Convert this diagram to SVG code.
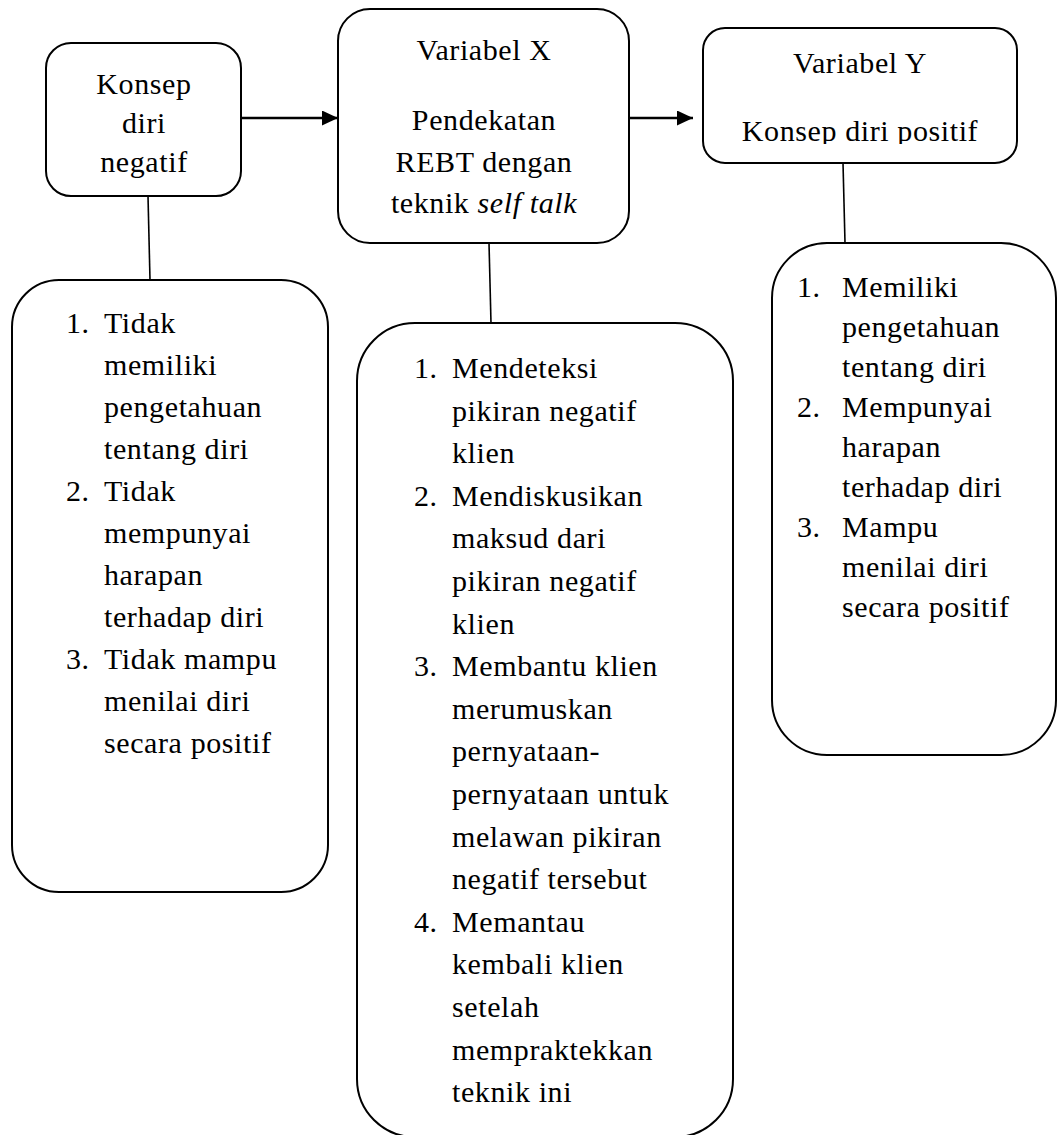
<svg xmlns="http://www.w3.org/2000/svg" width="1058" height="1135" viewBox="0 0 1058 1135">
<style>
.box{fill:#fff;stroke:#000;stroke-width:2}
.t{font-family:"Liberation Serif","Times New Roman",serif;font-size:30px;fill:#000;letter-spacing:0.6px}
.c{text-anchor:middle}
.ln{stroke:#000;stroke-width:1.6;fill:none}
.ar{stroke:#000;stroke-width:2.6;fill:none}
</style>
<defs>
<marker id="ah" markerWidth="16" markerHeight="15" refX="16" refY="7.5" orient="auto" markerUnits="userSpaceOnUse">
<path d="M0,0 L16,7.5 L0,15 Z" fill="#000"/>
</marker>
<clipPath id="clipY"><rect x="703" y="28" width="314" height="116"/></clipPath>
</defs>
<rect width="1058" height="1135" fill="#fff"/>
<g id="connectors">
<line class="ar" x1="241" y1="118" x2="338" y2="118" marker-end="url(#ah)"/>
<line class="ar" x1="629" y1="118" x2="693" y2="118" marker-end="url(#ah)"/>
<line class="ln" x1="148" y1="196" x2="150" y2="280"/>
<line class="ln" x1="489" y1="243" x2="491" y2="323"/>
<line class="ln" x1="843" y1="163" x2="845" y2="243"/>
</g>
<g id="node-konsep-negatif">
<rect class="box" x="46" y="43" width="195" height="153" rx="25"/>
<text class="t c" x="144" y="94">Konsep</text>
<text class="t c" x="144" y="133">diri</text>
<text class="t c" x="144" y="172">negatif</text>
</g>
<g id="node-variabel-x">
<rect class="box" x="338" y="9" width="291" height="234" rx="32"/>
<text class="t c" x="484" y="60">Variabel X</text>
<text class="t c" x="484" y="130">Pendekatan</text>
<text class="t c" x="484" y="172">REBT dengan</text>
<text class="t c" x="484" y="213">teknik <tspan font-style="italic">self talk</tspan></text>
</g>
<g id="node-variabel-y">
<rect class="box" x="703" y="28" width="314" height="135" rx="22"/>
<text class="t c" x="860" y="73">Variabel Y</text>
<text class="t c" x="860" y="141" clip-path="url(#clipY)">Konsep diri positif</text>
</g>
<g id="node-indikator-negatif">
<rect class="box" x="12" y="280" width="316" height="612" rx="47"/>
<text class="t" x="66" y="333">1.</text>
<text class="t" x="104" y="333">Tidak</text>
<text class="t" x="104" y="375">memiliki</text>
<text class="t" x="104" y="417">pengetahuan</text>
<text class="t" x="104" y="459">tentang diri</text>
<text class="t" x="66" y="501">2.</text>
<text class="t" x="104" y="501">Tidak</text>
<text class="t" x="104" y="543">mempunyai</text>
<text class="t" x="104" y="585">harapan</text>
<text class="t" x="104" y="627">terhadap diri</text>
<text class="t" x="66" y="669">3.</text>
<text class="t" x="104" y="669">Tidak mampu</text>
<text class="t" x="104" y="711">menilai diri</text>
<text class="t" x="104" y="753">secara positif</text>
</g>
<g id="node-langkah-rebt">
<rect class="box" x="357" y="323" width="376" height="814" rx="58"/>
<text class="t" x="414" y="378">1.</text>
<text class="t" x="452" y="378">Mendeteksi</text>
<text class="t" x="452" y="420.6">pikiran negatif</text>
<text class="t" x="452" y="463.2">klien</text>
<text class="t" x="414" y="505.8">2.</text>
<text class="t" x="452" y="505.8">Mendiskusikan</text>
<text class="t" x="452" y="548.4">maksud dari</text>
<text class="t" x="452" y="591">pikiran negatif</text>
<text class="t" x="452" y="633.6">klien</text>
<text class="t" x="414" y="676.2">3.</text>
<text class="t" x="452" y="676.2">Membantu klien</text>
<text class="t" x="452" y="718.8">merumuskan</text>
<text class="t" x="452" y="761.4">pernyataan-</text>
<text class="t" x="452" y="804">pernyataan untuk</text>
<text class="t" x="452" y="846.6">melawan pikiran</text>
<text class="t" x="452" y="889.2">negatif tersebut</text>
<text class="t" x="414" y="931.8">4.</text>
<text class="t" x="452" y="931.8">Memantau</text>
<text class="t" x="452" y="974.4">kembali klien</text>
<text class="t" x="452" y="1017">setelah</text>
<text class="t" x="452" y="1059.6">mempraktekkan</text>
<text class="t" x="452" y="1102.2">teknik ini</text>
</g>
<g id="node-indikator-positif">
<rect class="box" x="772" y="243" width="284" height="512" rx="55"/>
<text class="t" x="797" y="297">1.</text>
<text class="t" x="842" y="297">Memiliki</text>
<text class="t" x="842" y="337">pengetahuan</text>
<text class="t" x="842" y="377">tentang diri</text>
<text class="t" x="797" y="417">2.</text>
<text class="t" x="842" y="417">Mempunyai</text>
<text class="t" x="842" y="457">harapan</text>
<text class="t" x="842" y="497">terhadap diri</text>
<text class="t" x="797" y="537">3.</text>
<text class="t" x="842" y="537">Mampu</text>
<text class="t" x="842" y="577">menilai diri</text>
<text class="t" x="842" y="617">secara positif</text>
</g>
</svg>
